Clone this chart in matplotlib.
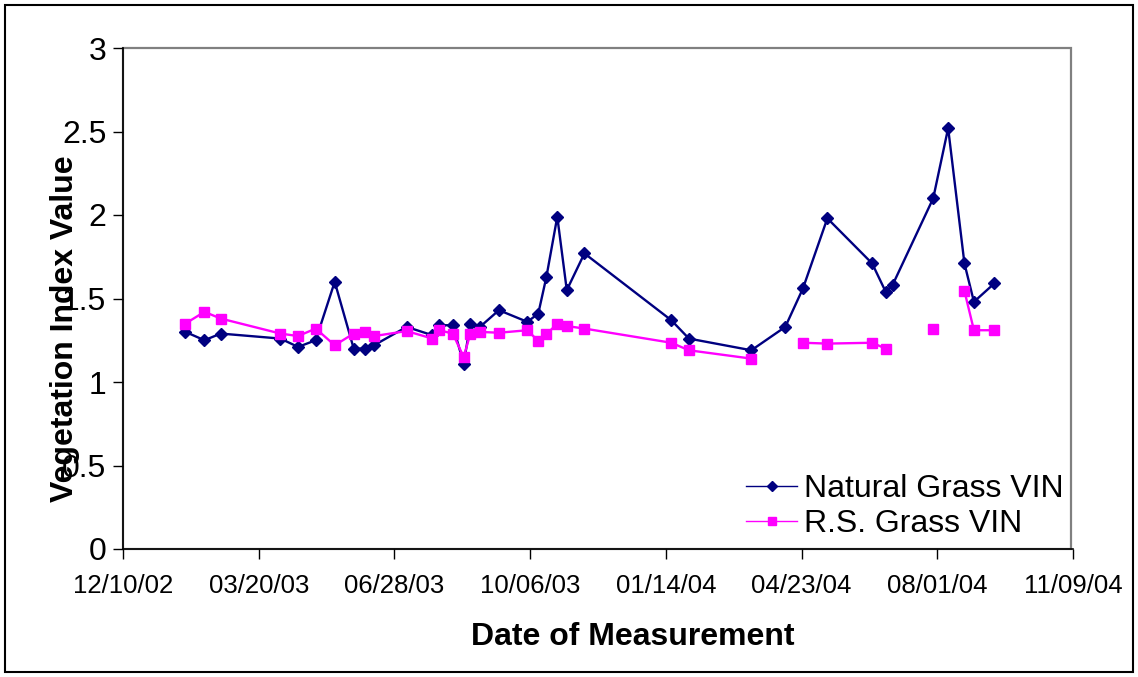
import numpy as np
import matplotlib
matplotlib.use("Agg")
import matplotlib.pyplot as plt
import matplotlib.dates as mdates
from matplotlib.lines import Line2D
from matplotlib.patches import Rectangle
from datetime import date, timedelta

plt.rcParams['font.family'] = ['Liberation Sans', 'DejaVu Sans']

# Measurement dates
dates = [
    "2003-01-25", "2003-02-08", "2003-02-20", "2003-04-05", "2003-04-18",
    "2003-05-01", "2003-05-15", "2003-05-29", "2003-06-06", "2003-06-13",
    "2003-07-07", "2003-07-26", "2003-07-31", "2003-08-10", "2003-08-18",
    "2003-08-23", "2003-08-30", "2003-09-13", "2003-10-04", "2003-10-12",
    "2003-10-18", "2003-10-26", "2003-11-02", "2003-11-15", "2004-01-18",
    "2004-01-31", "2004-03-17", "2004-04-11", "2004-04-24", "2004-05-12",
    "2004-06-14", "2004-06-24", "2004-06-29", "2004-07-29", "2004-08-09",
    "2004-08-21", "2004-08-28", "2004-09-12",
]

natural_vin = [
    1.30, 1.25, 1.29, 1.26, 1.21, 1.25, 1.60, 1.20, 1.20, 1.22,
    1.33, 1.28, 1.34, 1.34, 1.11, 1.35, 1.33, 1.43, 1.36, 1.41,
    1.63, 1.99, 1.55, 1.77, 1.37, 1.26, 1.19, 1.33, 1.56, 1.98,
    1.71, 1.54, 1.58, 2.10, 2.52, 1.71, 1.48, 1.59,
]

nan = float("nan")
rs_vin = [
    1.35, 1.42, 1.38, 1.29, 1.275, 1.32, 1.22, 1.29, 1.30, 1.275,
    1.305, 1.26, 1.31, 1.29, 1.15, 1.29, 1.30, 1.295, 1.31, 1.245,
    1.285, 1.35, 1.335, 1.32, 1.235, 1.19, 1.14, nan, 1.235, 1.23,
    1.235, 1.20, nan, 1.32, nan, 1.545, 1.31, 1.31,
]

series_labels = ["Natural Grass VIN", "R.S. Grass VIN"]
x_start = "2002-12-10"
x_step_days = 100
x_n_ticks = 8
y_ticks = [0, 0.5, 1, 1.5, 2, 2.5, 3]

navy = "#000080"
magenta = "#FF00FF"

x = [date.fromisoformat(d) for d in dates]
start = date.fromisoformat(x_start)
xticks = [start + timedelta(days=x_step_days * i) for i in range(x_n_ticks)]

fig = plt.figure(figsize=(11.38, 6.77), dpi=100)
ax = fig.add_axes([123 / 1138, 1 - 549 / 677, 950 / 1138, 501 / 677])

ax.plot(x, natural_vin, color=navy, lw=1.7, marker="D", ms=6.6,
        mfc=navy, mec=navy, zorder=3)
ax.plot(x, rs_vin, color=magenta, lw=1.7, marker="s", ms=7.8,
        mfc=magenta, mec=magenta, zorder=4)

ax.set_xlim(xticks[0], xticks[-1])
ax.set_ylim(0, 3)
ax.set_xticks(xticks)
ax.xaxis.set_major_formatter(mdates.DateFormatter("%m/%d/%y"))
ax.set_yticks(y_ticks)
ax.set_yticklabels([f"{v:g}" for v in y_ticks])

ax.tick_params(axis="x", direction="out", length=7, width=1, pad=11,
               labelsize=18.5, colors="black")
ax.tick_params(axis="y", direction="out", length=7, width=1, pad=5,
               labelsize=23, colors="black")

for s in ("top", "right"):
    ax.spines[s].set_visible(False)
for s in ("left", "bottom"):
    ax.spines[s].set_linewidth(1.2)
    ax.spines[s].set_color("black")

# grey frame around the plotting region
ax.add_patch(Rectangle((0, 0), 948 / 950, 1, transform=ax.transAxes,
                       fill=False, edgecolor="#808080", lw=1.6,
                       clip_on=False, zorder=1))

fig.text(65 / 1138, 1 - 329 / 677, "Vegetation Index Value", rotation=90,
         ha="center", va="center", fontsize=23, fontweight="bold")
fig.text(633 / 1138, 1 - 637 / 677, "Date of Measurement",
         ha="center", va="center", fontsize=23, fontweight="bold")

handles = [
    Line2D([], [], color=navy, lw=1.0, marker="D", ms=5, mfc=navy, mec=navy),
    Line2D([], [], color=magenta, lw=1.0, marker="s", ms=6, mfc=magenta, mec=magenta),
]
ax.legend(handles, series_labels, loc="lower left",
          bbox_to_anchor=(746 / 1138, 1 - 539 / 677),
          bbox_transform=fig.transFigure, frameon=False, fontsize=23,
          handlelength=1.6, handletextpad=0.2, labelspacing=0.15,
          borderpad=0, borderaxespad=0)

# outer border of the figure
fig.add_artist(Rectangle((5 / 1138, 5 / 677), 1128 / 1138, 667 / 677,
                         transform=fig.transFigure, fill=False,
                         edgecolor="black", lw=1.5))

fig.savefig("out.png", dpi=100)
